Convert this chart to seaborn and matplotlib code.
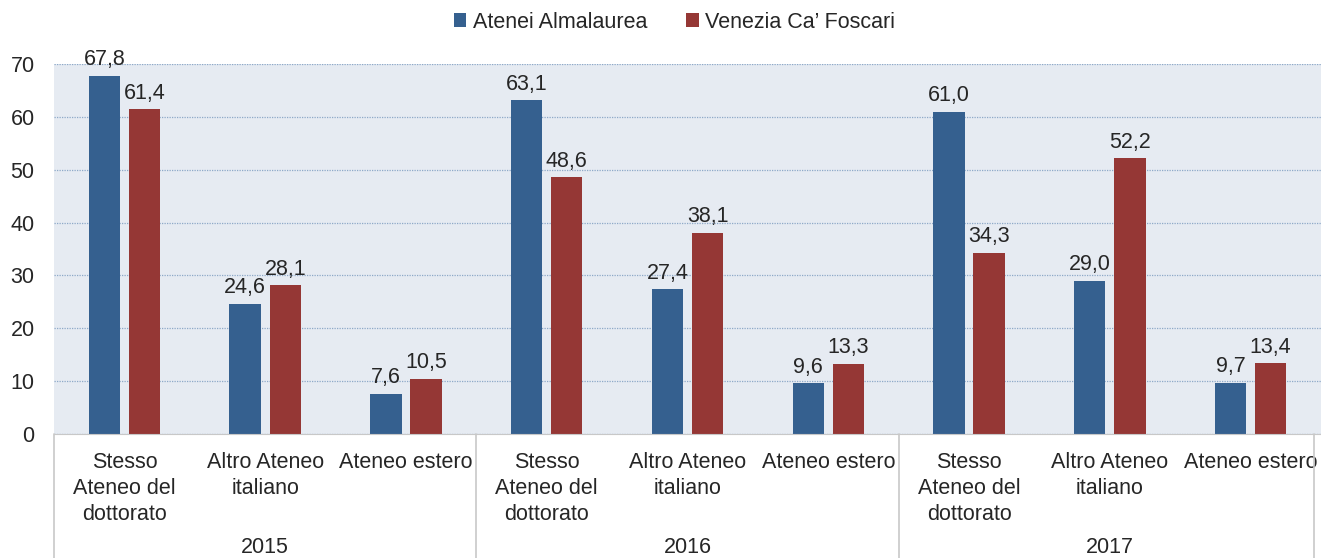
import numpy as np
import pandas as pd
import seaborn as sns
from matplotlib import pyplot as plt
from matplotlib import transforms
from matplotlib.lines import Line2D

years = ['2015', '2016', '2017']
categories = ['Stesso\nAteneo del\ndottorato', 'Altro Ateneo\nitaliano', 'Ateneo estero']
series = ['Atenei Almalaurea', 'Venezia Ca\u2019 Foscari']
almalaurea = [67.8, 24.6, 7.6, 63.1, 27.4, 9.6, 61.0, 29.0, 9.7]
foscari = [61.4, 28.1, 10.5, 48.6, 38.1, 13.3, 34.3, 52.2, 13.4]
colors = ['#35608F', '#953735']

keys = [f'{y}|{c}' for y in years for c in categories]
df = pd.DataFrame({
    'key': keys * 2,
    'serie': [series[0]] * 9 + [series[1]] * 9,
    'valore': almalaurea + foscari,
})

sns.set_style('white')
plt.rcParams['font.family'] = ['Liberation Sans', 'DejaVu Sans']
fs = 15.5

fig = plt.figure(figsize=(13.21, 5.58), dpi=100)
ax = fig.add_axes([54 / 1321, 1 - 434 / 558, 1 - 54 / 1321, 370 / 558])
ax.set_facecolor('#E6EBF2')

sns.barplot(data=df, x='key', y='valore', hue='serie', order=keys,
            palette=colors, width=0.57, gap=0.22, saturation=1,
            linewidth=0, ax=ax, legend=True)

for cont in ax.containers:
    labels = [f'{v:.1f}'.replace('.', ',') for v in cont.datavalues]
    ax.bar_label(cont, labels=labels, padding=4, fontsize=fs, clip_on=False)

ax.set_ylim(0, 70)
ax.set_xlim(-0.5, 8.5)
ax.set_yticks(range(0, 71, 10))
ax.yaxis.grid(True, linestyle=(0, (1, 1)), color='#8EA9C8', linewidth=0.9)
ax.set_axisbelow(True)
ax.set_xticks(range(9))
ax.set_xticklabels(categories * 3, linespacing=1.32)
ax.tick_params(axis='x', length=0, pad=13, labelsize=fs)
ax.tick_params(axis='y', length=0, pad=14, labelsize=fs)
ax.set_xlabel('')
ax.set_ylabel('')
for s in ['top', 'right', 'left']:
    ax.spines[s].set_visible(False)
ax.spines['bottom'].set_color('#C8C8C8')

trans = transforms.blended_transform_factory(ax.transData, ax.transAxes)
for xb in [-0.5, 2.5, 5.5, 8.45]:
    ax.add_line(Line2D([xb, xb], [0, -0.34], transform=trans, color='#C8C8C8',
                       linewidth=1.2, clip_on=False))
for i, y in enumerate(years):
    ax.annotate(y, xy=(3 * i + 1, 0), xycoords=trans, xytext=(0, -82),
                textcoords='offset points', ha='center', va='center', fontsize=fs)

handles, lbls = ax.get_legend_handles_labels()
ax.legend(handles, lbls, loc='center', bbox_to_anchor=(0.5 - 13 / 1267, 1 + 42 / 370),
          ncol=2, frameon=False, fontsize=fs, handlelength=0.6, handleheight=0.6,
          handletextpad=0.3, columnspacing=1.8)

fig.savefig('out.png', dpi=100)
